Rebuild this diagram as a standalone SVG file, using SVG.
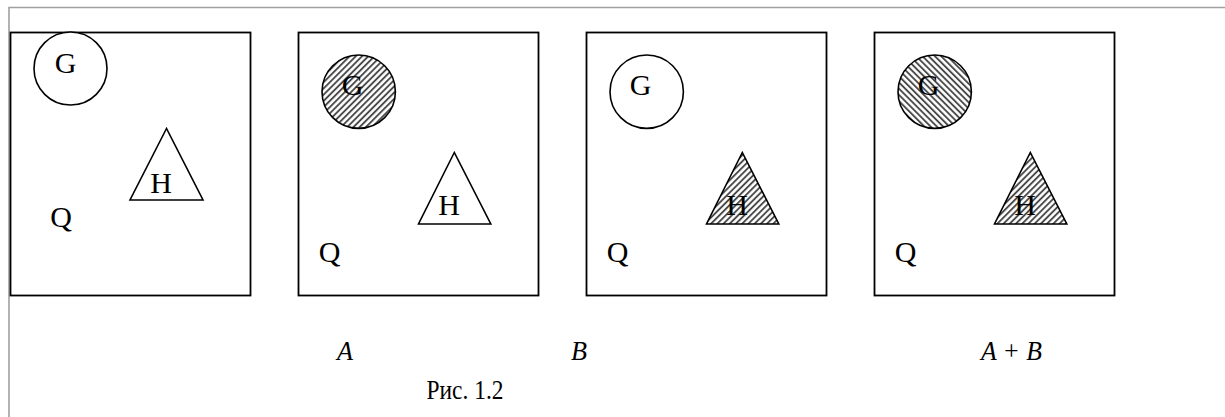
<svg xmlns="http://www.w3.org/2000/svg" width="1225" height="417" viewBox="0 0 1225 417">
<style>
.frame{fill:none;stroke:#a0a0a0;stroke-width:1.6}
.box{fill:#fff;stroke:#000;stroke-width:1.8}
.shape{stroke:#000;stroke-width:1.6}
.plain{fill:#fff}
.hf{fill:url(#hatchF)}
.hb{fill:url(#hatchB)}
.t{font-family:"Liberation Serif","Times New Roman",serif;font-size:30px;fill:#000;text-anchor:middle}
.lbl{font-family:"Liberation Serif","Times New Roman",serif;font-size:28px;font-style:italic;fill:#000}
.cap{font-family:"Liberation Serif","Times New Roman",serif;font-size:27px;fill:#000}
</style>
<defs>
<pattern id="hatchF" patternUnits="userSpaceOnUse" width="4.4" height="4.4" patternTransform="rotate(45)">
<rect width="4.4" height="4.4" fill="#fff"/>
<line x1="1" y1="0" x2="1" y2="4.4" stroke="#404040" stroke-width="1.8"/>
</pattern>
<pattern id="hatchB" patternUnits="userSpaceOnUse" width="4.4" height="4.4" patternTransform="rotate(-45)">
<rect width="4.4" height="4.4" fill="#fff"/>
<line x1="1" y1="0" x2="1" y2="4.4" stroke="#404040" stroke-width="1.8"/>
</pattern>
</defs>
<rect width="1225" height="417" fill="#fff"/>
<path class="frame" d="M9,417 V7.5 H1225"/>

<g id="panel0">
<rect class="box" x="10.5" y="32.5" width="240" height="263"/>
<circle class="shape plain" cx="70.5" cy="68.5" r="36.5"/>
<text class="t" x="65.5" y="72.5">G</text>
<polygon class="shape plain" points="166.5,128.5 130,200 203,200"/>
<text class="t" x="161" y="192.5">H</text>
<text class="t" x="61" y="226.5">Q</text>
</g>

<g id="panelA">
<rect class="box" x="298.5" y="32.5" width="240" height="263"/>
<circle class="shape hf" cx="358.7" cy="91.7" r="36.7"/>
<text class="t" x="352.5" y="95">G</text>
<polygon class="shape plain" points="454.3,152.5 418.5,224 490.8,224"/>
<text class="t" x="449" y="215">H</text>
<text class="t" x="329.5" y="261.5">Q</text>
</g>

<g id="panelB">
<rect class="box" x="586.5" y="32.5" width="240" height="263"/>
<circle class="shape plain" cx="646.7" cy="91.7" r="36.7"/>
<text class="t" x="640.5" y="95">G</text>
<polygon class="shape hf" points="742.3,152.5 706.5,224 778.8,224"/>
<text class="t" x="737" y="215">H</text>
<text class="t" x="617.5" y="261.5">Q</text>
</g>

<g id="panelAB">
<rect class="box" x="874.5" y="32.5" width="240" height="263"/>
<circle class="shape hb" cx="934.7" cy="91.7" r="36.7"/>
<text class="t" x="928.5" y="95">G</text>
<polygon class="shape hf" points="1030.3,152.5 994.5,224 1066.8,224"/>
<text class="t" x="1025" y="215">H</text>
<text class="t" x="905.5" y="261.5">Q</text>
</g>

<g id="labels">
<text class="lbl" x="337" y="360" textLength="16" lengthAdjust="spacingAndGlyphs">A</text>
<text class="lbl" x="571" y="360" textLength="16" lengthAdjust="spacingAndGlyphs">B</text>
<text class="lbl" x="981" y="360" textLength="61" lengthAdjust="spacingAndGlyphs">A + B</text>
<text class="cap" x="426.5" y="398.5" textLength="77" lengthAdjust="spacingAndGlyphs">Рис. 1.2</text>
</g>
<g id="connectors"/>
</svg>
